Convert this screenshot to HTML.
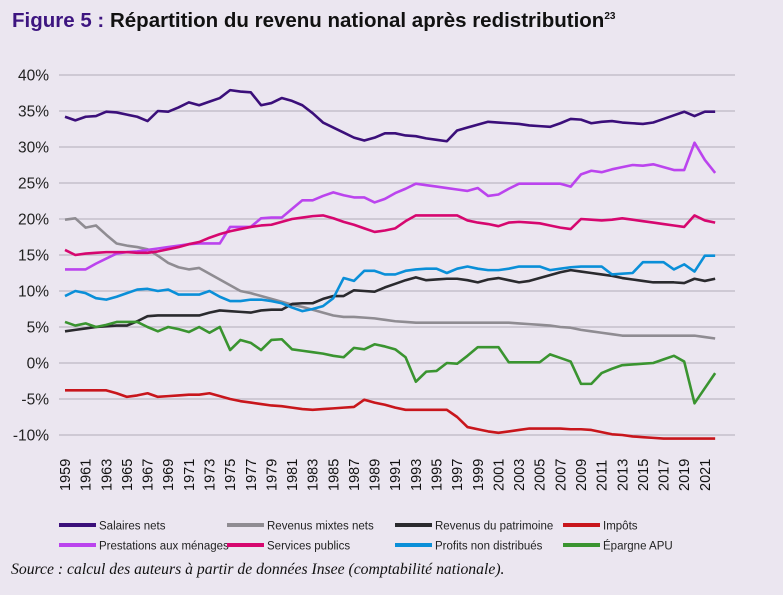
<!DOCTYPE html>
<html><head><meta charset="utf-8">
<style>
body{margin:0;background:#ebe6f0;}
#c{position:relative;width:783px;height:595px;background:#ebe6f0;font-family:"Liberation Sans",sans-serif;overflow:hidden}
#title{position:absolute;left:12px;top:9px;font-size:20.5px;font-weight:bold;color:#111;white-space:nowrap}
#title span.f{color:#3d1580}
#title sup{font-size:10px}
#src{position:absolute;left:11px;top:561px;font-family:"Liberation Serif",serif;font-style:italic;font-size:15.7px;color:#111;white-space:nowrap}
</style></head><body>
<div id="c">
<div id="title"><span class="f">Figure 5 :</span> Répartition du revenu national après redistribution<sup>23</sup></div>
<svg id="svg" width="783" height="595" style="position:absolute;left:0;top:0"></svg>
<div id="src">Source : calcul des auteurs à partir de données Insee (comptabilité nationale).</div>
</div>
<script>
const years=[];for(let y=1959;y<=2022;y++)years.push(y);
const yTicks=[40,35,30,25,20,15,10,5,0,-5,-10];
const seriesNames=["Salaires nets","Revenus mixtes nets","Revenus du patrimoine","Impôts","Prestations aux ménages","Services publics","Profits non distribués","Épargne APU"];
const seriesColors=["#3b0f7a","#8f8c92","#2a2a2e","#c8161c","#bb44ee","#d6076f","#0a8fd8","#3a9430"];
const salaires=[34.2,33.7,34.2,34.3,34.9,34.8,34.5,34.2,33.6,35.0,34.9,35.5,36.2,35.8,36.3,36.8,37.9,37.7,37.6,35.8,36.1,36.8,36.4,35.8,34.7,33.4,32.7,32.0,31.3,30.9,31.3,31.9,31.9,31.6,31.5,31.2,31.0,30.8,32.3,32.7,33.1,33.5,33.4,33.3,33.2,33.0,32.9,32.8,33.3,33.9,33.8,33.3,33.5,33.6,33.4,33.3,33.2,33.4,33.9,34.4,34.9,34.3,34.9,34.9].slice(0,64);
const mixtes=[19.9,20.1,18.8,19.1,17.8,16.6,16.3,16.1,15.8,14.9,13.9,13.3,13.0,13.2,12.4,11.6,10.8,10.0,9.7,9.3,8.9,8.5,8.1,7.8,7.4,7.0,6.6,6.4,6.4,6.3,6.2,6.0,5.8,5.7,5.6,5.6,5.6,5.6,5.6,5.6,5.6,5.6,5.6,5.6,5.5,5.4,5.3,5.2,5.0,4.9,4.6,4.4,4.2,4.0,3.8,3.8,3.8,3.8,3.8,3.8,3.8,3.8,3.6,3.4];
const patrimoine=[4.4,4.6,4.8,5.0,5.1,5.2,5.2,5.8,6.5,6.6,6.6,6.6,6.6,6.6,7.0,7.3,7.2,7.1,7.0,7.3,7.4,7.4,8.2,8.3,8.3,8.9,9.3,9.3,10.1,10.0,9.9,10.5,11.0,11.5,11.9,11.5,11.6,11.7,11.7,11.5,11.2,11.6,11.8,11.5,11.2,11.4,11.8,12.2,12.6,12.9,12.7,12.5,12.3,12.1,11.8,11.6,11.4,11.2,11.2,11.2,11.1,11.7,11.4,11.7];
const impots=[-3.8,-3.8,-3.8,-3.8,-3.8,-4.2,-4.7,-4.5,-4.2,-4.7,-4.6,-4.5,-4.4,-4.4,-4.2,-4.6,-5.0,-5.3,-5.5,-5.7,-5.9,-6.0,-6.2,-6.4,-6.5,-6.4,-6.3,-6.2,-6.1,-5.1,-5.5,-5.8,-6.2,-6.5,-6.5,-6.5,-6.5,-6.5,-7.5,-8.9,-9.2,-9.5,-9.7,-9.5,-9.3,-9.1,-9.1,-9.1,-9.1,-9.2,-9.2,-9.3,-9.6,-9.9,-10.0,-10.2,-10.3,-10.4,-10.5,-10.5,-10.5,-10.5,-10.5,-10.5];
const prestations=[13.0,13.0,13.0,13.8,14.5,15.2,15.4,15.5,15.7,15.9,16.1,16.3,16.5,16.6,16.6,16.6,18.9,18.9,18.9,20.1,20.2,20.2,21.4,22.6,22.6,23.2,23.7,23.3,23.0,23.0,22.3,22.8,23.6,24.2,24.9,24.7,24.5,24.3,24.1,23.9,24.3,23.2,23.4,24.2,24.9,24.9,24.9,24.9,24.9,24.5,26.2,26.7,26.5,26.9,27.2,27.5,27.4,27.6,27.2,26.8,26.8,30.6,28.2,26.4].slice(0,64);
const services=[15.7,15.0,15.2,15.3,15.4,15.4,15.4,15.3,15.3,15.5,15.8,16.1,16.5,16.8,17.4,17.9,18.3,18.6,18.9,19.1,19.2,19.6,20.0,20.2,20.4,20.5,20.1,19.6,19.2,18.7,18.2,18.4,18.7,19.7,20.5,20.5,20.5,20.5,20.5,19.8,19.5,19.3,19.0,19.5,19.6,19.5,19.4,19.1,18.8,18.6,20.0,19.9,19.8,19.9,20.1,19.9,19.7,19.5,19.3,19.1,18.9,20.5,19.8,19.5];
const profits=[9.3,10.0,9.7,9.0,8.8,9.2,9.7,10.2,10.3,10.0,10.2,9.5,9.5,9.5,10.0,9.2,8.6,8.6,8.8,8.8,8.6,8.3,7.7,7.2,7.5,7.9,9.0,11.8,11.4,12.8,12.8,12.3,12.3,12.8,13.0,13.1,13.1,12.5,13.1,13.4,13.1,12.9,12.9,13.1,13.4,13.4,13.4,12.9,13.1,13.3,13.4,13.4,13.4,12.3,12.4,12.5,14.0,14.0,14.0,13.0,13.7,12.7,14.9,14.9];
const epargne=[5.7,5.2,5.5,5.0,5.3,5.7,5.7,5.7,5.0,4.4,5.0,4.7,4.3,5.0,4.2,5.0,1.8,3.2,2.8,1.8,3.2,3.3,1.9,1.7,1.5,1.3,1.0,0.8,2.1,1.9,2.6,2.3,1.9,0.8,-2.6,-1.2,-1.1,0.0,-0.1,1.0,2.2,2.2,2.2,0.1,0.1,0.1,0.1,1.2,0.7,0.2,-2.9,-2.9,-1.4,-0.8,-0.3,-0.2,-0.1,0.0,0.5,1.0,0.2,-5.6,-3.5,-1.4];
const seriesData=[salaires,mixtes,patrimoine,impots,prestations,services,profits,epargne];

const NS="http://www.w3.org/2000/svg";
const svg=document.getElementById('svg');
const xOf=y=>65+(y-1959)*10.32;
const yOf=v=>363-v*7.2;
function mk(t,a){const e=document.createElementNS(NS,t);for(const k in a)e.setAttribute(k,a[k]);svg.appendChild(e);return e;}
yTicks.forEach(t=>{
  const l=mk('line',{x1:59,x2:735,y1:yOf(t),y2:yOf(t),stroke:'#bdb8c4','stroke-width':1.3});
  
  
  const tx=mk('text',{x:49,y:yOf(t)+5.5,'text-anchor':'end','font-size':15.5,fill:'#222','font-family':'Liberation Sans, sans-serif'});
  tx.textContent=t+'%';
  
  
});
years.forEach(y=>{
  if((y-1959)%2)return;
  const x=xOf(y);
  const tx=mk('text',{transform:`translate(${x+5},491) rotate(-90)`,'font-size':14.5,fill:'#111','font-family':'Liberation Sans, sans-serif'});
  tx.textContent=y;
  
  
});
seriesData.forEach((d,i)=>{
  const p=mk('polyline',{points:d.map((v,j)=>xOf(years[j])+','+yOf(v)).join(' '),fill:'none',stroke:seriesColors[i],'stroke-width':2.6,'stroke-linejoin':'round'});
  
  
});
seriesNames.forEach((n,i)=>{
  const col=i%4,row=Math.floor(i/4);
  const x=59+col*168,y=525+row*20;
  const s=mk('rect',{x:x,y:y-2,width:37,height:4,fill:seriesColors[i]});
  
  
  const t=mk('text',{x:x+40,y:y+4.5,'font-size':11.5,fill:'#222','font-family':'Liberation Sans, sans-serif'});
  t.textContent=n;
  
  
});
</script>
</body></html>
